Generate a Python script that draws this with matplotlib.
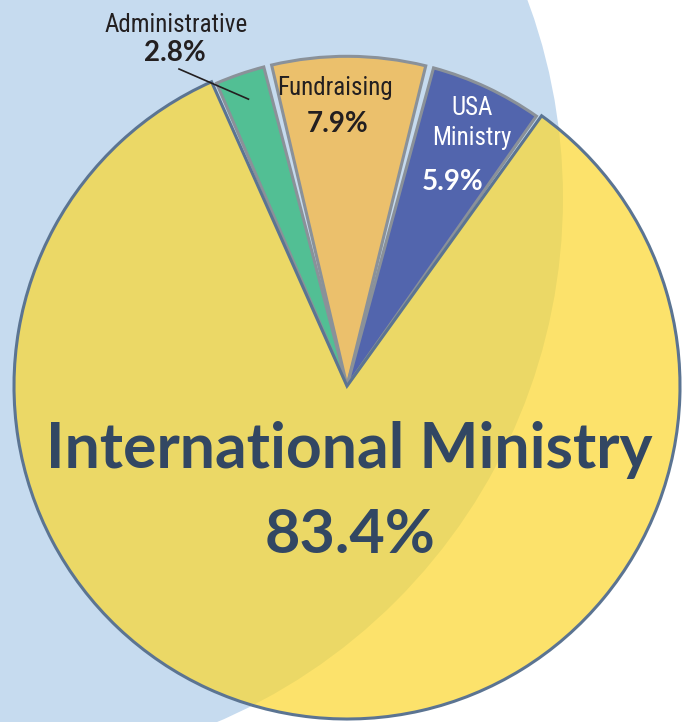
import numpy as np
import matplotlib
matplotlib.use('Agg')
import matplotlib.pyplot as plt
from matplotlib.patches import Circle
from matplotlib import font_manager

# Budget split, percent of total
categories = ['Administrative', 'Fundraising', 'USA\nMinistry', 'International Ministry']
shares = [2.8, 7.9, 5.9, 83.4]
pct_labels = ['2.8%', '7.9%', '5.9%', '83.4%']

slice_colors = ['#52BF94', '#EBC06C', '#5265AD', (0.988, 0.843, 0.173, 0.7)]
explode = [0.02, 0.02, 0.02, 0.0]

W, H = 686, 722
navy = '#324763'
ink = '#231F20'

# condensed face for the small labels
installed = {f.name for f in font_manager.fontManager.ttflist}
narrow = 'Roboto Condensed' if 'Roboto Condensed' in installed else 'Roboto'

fig = plt.figure(figsize=(W / 100, H / 100), dpi=100)
ax = fig.add_axes([0, 0, 1, 1])

# pale blue disc behind the pie
ax.add_patch(Circle((-7, H - 198), 570, facecolor='#C6DBEF', edgecolor='none', zorder=0))

R = 333
wedges, _ = ax.pie(shares, colors=slice_colors, explode=explode, startangle=114,
                   counterclock=False, center=(347, H - 386), radius=R,
                   wedgeprops=dict(linewidth=2.2, edgecolor='#8A9199', joinstyle='miter'))
# small gap between slices, rims kept on the same circle
for w in wedges[:3]:
    w.set_radius(R - 0.5 * 0.02 * R)
    w.set_theta1(w.theta1 + 0.7)
    w.set_theta2(w.theta2 - 0.7)
wedges[3].set_edgecolor('#5B7492')

ax.set_xlim(0, W)
ax.set_ylim(0, H)
ax.set_aspect('equal')
ax.axis('off')

# small labels
ax.text(176, H - 32, categories[0], ha='center', va='baseline', family=narrow,
        fontsize=18, color=ink)
ax.text(175, H - 61, pct_labels[0], ha='center', va='baseline', fontsize=20,
        family='Lato', weight='bold', color=ink)
g = wedges[0]
mid = np.deg2rad((g.theta1 + g.theta2) / 2)
ax.plot([179, g.center[0] + 0.92 * g.r * np.cos(mid)],
        [H - 69, g.center[1] + 0.92 * g.r * np.sin(mid)], color=ink, lw=1.2)

ax.text(335, H - 95, categories[1], ha='center', va='baseline', family=narrow,
        fontsize=18, color=ink)
ax.text(338, H - 132, pct_labels[1], ha='center', va='baseline', fontsize=20,
        family='Lato', weight='bold', color=ink)

ax.text(472, H - 145, categories[2], ha='center', va='baseline', family=narrow,
        fontsize=18, color='white', linespacing=1.3)
ax.text(453, H - 190, pct_labels[2], ha='center', va='baseline', fontsize=20,
        family='Lato', weight='bold', color='white')

# big label
ax.text(349, H - 468, categories[3], ha='center', va='baseline', fontsize=45,
        family='Lato', weight='bold', color=navy)
ax.text(350, H - 553, pct_labels[3], ha='center', va='baseline', fontsize=44,
        family='Lato', weight='bold', color=navy)

fig.savefig('out.png', dpi=100)
